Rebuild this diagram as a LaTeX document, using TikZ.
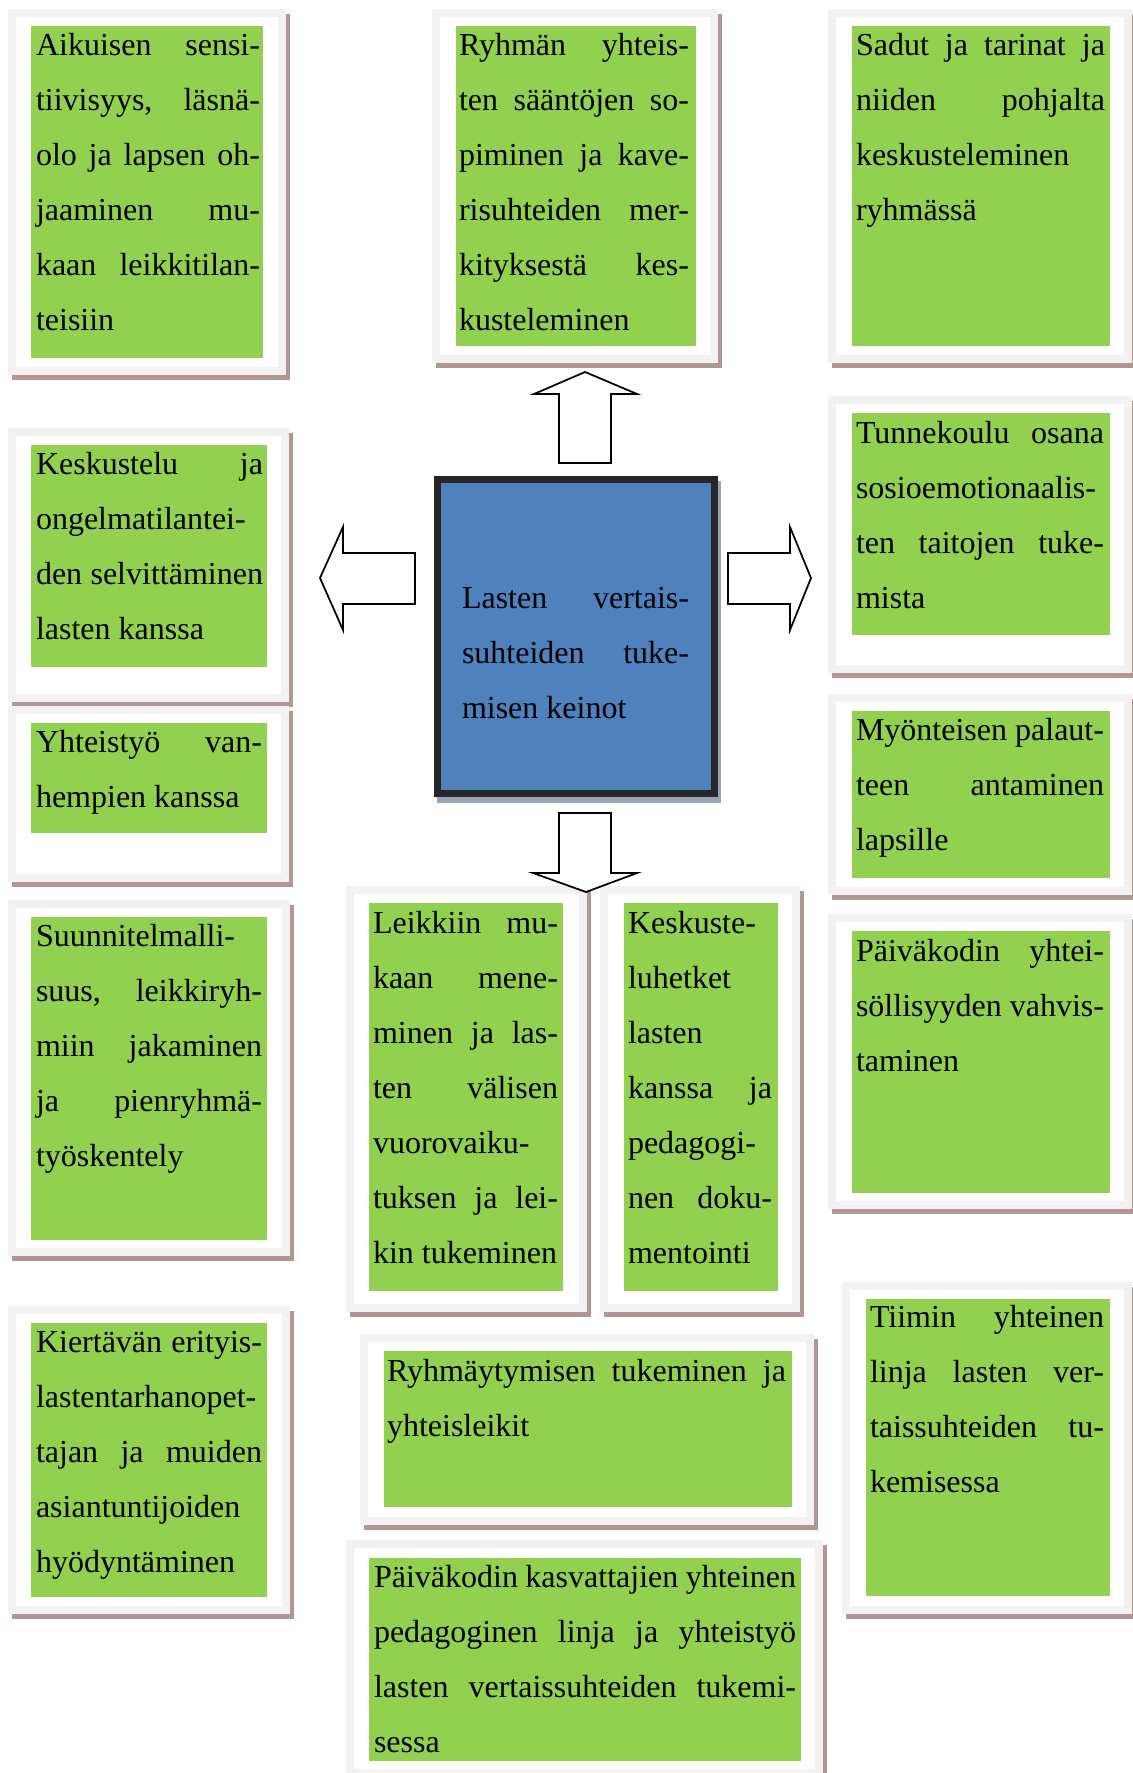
\documentclass[tikz,border=0pt]{standalone}
\usepackage{fontspec}
\setmainfont{Liberation Serif}
\definecolor{boxgreen}{RGB}{146,208,80}
\definecolor{framegray}{RGB}{242,242,242}
\definecolor{shadowc}{RGB}{180,148,148}
\definecolor{centerblue}{RGB}{79,129,189}
\definecolor{borderdark}{RGB}{38,38,38}
\definecolor{centshadow}{RGB}{150,163,184}
\newcommand\jl[1]{\makebox[\linewidth][s]{#1}\\}
\newcommand\fr[4]{%
  \fill[shadowc] (#1+3.5,#2+5) rectangle (#3+3.5,#4+5);
  \fill[framegray] (#1,#2) rectangle (#3,#4);
  \fill[white] (#1+8,#2+8) rectangle (#3-8,#4-8);}
\newcommand\gr[4]{\fill[boxgreen] (#1,#2) rectangle (#3,#4);}
\newcommand\tbx[5]{\node[tnode] (#1) at (#2,#3) {\parbox[t]{#4}{\fontsize{12.8}{22}\selectfont #5}};}
\tikzset{
  tnode/.style={anchor=base west,inner sep=0pt,outer sep=0pt},
  blockarrow/.style={draw=black,fill=white,line width=0.7pt,line join=miter}
}
\begin{document}
\begin{tikzpicture}[x=0.4pt,y=-0.4pt]
\useasboundingbox (0,0) rectangle (1133,1773);
\clip (0,0) rectangle (1133,1773);
\fill[white] (0,0) rectangle (1133,1773);
% frames
\fr{8}{9}{286}{375}      \gr{31}{26}{263}{358}
\fr{432}{9}{718}{363}    \gr{456}{26}{696}{346}
\fr{828}{9}{1132}{363}   \gr{852}{26}{1110}{346}
\fr{8}{428}{289}{702}    \gr{31}{445}{267}{667}
\fr{8}{706}{289}{882}    \gr{31}{723}{267}{833}
\fr{8}{900}{290}{1256}   \gr{31}{917}{267}{1240}
\fr{8}{1306}{290}{1614}  \gr{31}{1323}{267}{1597}
\fr{346}{886}{587}{1312} \gr{369}{903}{563}{1291}
\fr{600}{886}{800}{1312} \gr{624}{903}{778}{1291}
\fr{360}{1334}{814}{1525} \gr{384}{1351}{792}{1507}
\fr{346}{1540}{823}{1777} \gr{369}{1558}{801}{1761}
\fr{828}{396}{1132}{673} \gr{852}{413}{1110}{635}
\fr{828}{694}{1132}{895} \gr{852}{711}{1110}{878}
\fr{828}{914}{1132}{1209} \gr{852}{931}{1110}{1193}
\fr{842}{1282}{1132}{1614} \gr{866}{1299}{1110}{1596}
% center
\fill[centshadow] (437,481) rectangle (721,803);
\draw[line width=2.8pt,draw=borderdark,fill=centerblue] (437.5,479.5) rectangle (714.5,793.5);
% texts
\tbx{tA}{36}{55}{89.6pt}{\jl{Aikuisen sensi-}\jl{tiivisyys, läsnä-}\jl{olo ja lapsen oh-}\jl{jaaminen mu-}\jl{kaan leikkitilan-}teisiin}
\tbx{tB}{459}{55}{92pt}{\jl{Ryhmän yhteis-}\jl{ten sääntöjen so-}\jl{piminen ja kave-}\jl{risuhteiden mer-}\jl{kityksestä kes-}kusteleminen}
\tbx{tC}{856}{55}{99.6pt}{\jl{Sadut ja tarinat ja}\jl{niiden pohjalta}keskusteleminen\\ryhmässä}
\tbx{tD}{36}{474}{90.8pt}{\jl{Keskustelu ja}ongelmatilantei-\\\jl{den selvittäminen}lasten kanssa}
\tbx{tE}{36}{752}{90.4pt}{\jl{Yhteistyö van-}hempien kanssa}
\tbx{tF}{36}{946}{90.4pt}{Suunnitelmalli-\\\jl{suus, leikkiryh-}\jl{miin jakaminen}\jl{ja pienryhmä-}työskentely}
\tbx{tG}{36}{1352}{90.4pt}{\jl{Kiertävän erityis-}lastentarhanopet-\\\jl{tajan ja muiden}asiantuntijoiden\\hyödyntäminen}
\tbx{tH}{373}{933}{74pt}{\jl{Leikkiin mu-}\jl{kaan mene-}\jl{minen ja las-}\jl{ten välisen}vuorovaiku-\\\jl{tuksen ja lei-}kin tukeminen}
\tbx{tI}{628}{933}{57.6pt}{Keskuste-\\luhetket\\lasten\\\jl{kanssa ja}pedagogi-\\\jl{nen doku-}mentointi}
\tbx{tJ}{387}{1381}{159.6pt}{\jl{Ryhmäytymisen tukeminen ja}yhteisleikit}
\tbx{tK}{374}{1587}{168.8pt}{\jl{Päiväkodin kasvattajien yhteinen}\jl{pedagoginen linja ja yhteistyö}\jl{lasten vertaissuhteiden tukemi-}sessa}
\tbx{tL}{856}{443}{99.2pt}{\jl{Tunnekoulu osana}sosioemotionaalis-\\\jl{ten taitojen tuke-}mista}
\tbx{tM}{856}{740}{99.2pt}{\jl{Myönteisen palaut-}\jl{teen antaminen}lapsille}
\tbx{tN}{856}{961}{99.2pt}{\jl{Päiväkodin yhtei-}\jl{söllisyyden vahvis-}taminen}
\tbx{tO}{870}{1327}{93.6pt}{\jl{Tiimin yhteinen}\jl{linja lasten ver-}\jl{taissuhteiden tu-}kemisessa}
\tbx{tCenter}{462}{608}{90.8pt}{\jl{Lasten vertais-}\jl{suhteiden tuke-}misen keinot}
% block arrows
\draw[blockarrow] (559,463) -- (559,394) -- (534,394) -- (585,372) -- (637,394) -- (611,394) -- (611,463) -- cycle;
\draw[blockarrow] (559,813) -- (611,813) -- (611,873) -- (637,873) -- (586,892) -- (533,873) -- (559,873) -- cycle;
\draw[blockarrow] (415,553) -- (415,604) -- (343,604) -- (343,630) -- (320,578) -- (343,527) -- (343,553) -- cycle;
\draw[blockarrow] (728,553) -- (790,553) -- (790,527) -- (811,578) -- (790,630) -- (790,604) -- (728,604) -- cycle;
\end{tikzpicture}
\end{document}
